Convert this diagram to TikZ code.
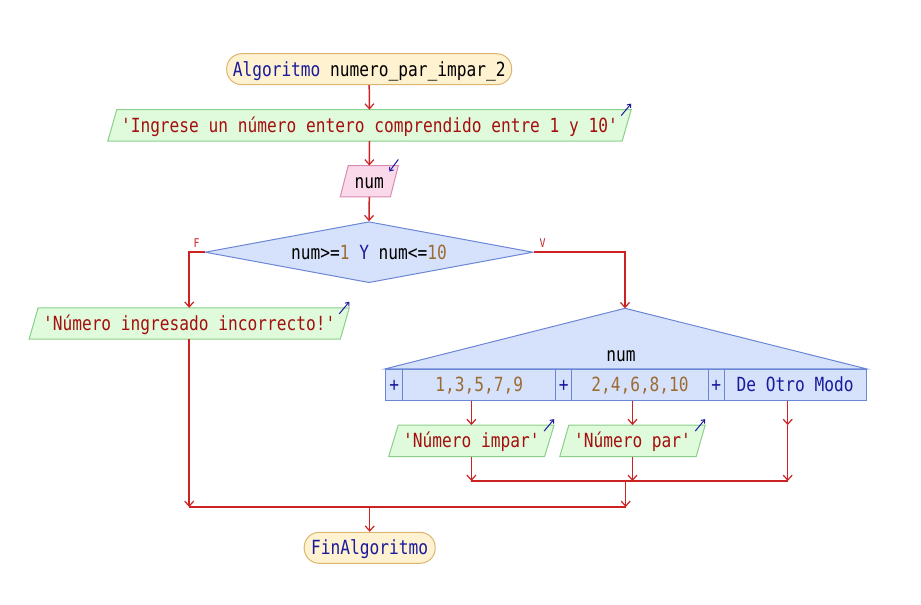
\documentclass[tikz,border=0pt]{standalone}
\usepackage{fontspec}
\newfontfamily\pmono[FakeStretch=0.83]{DejaVu Sans Mono}
\usetikzlibrary{shapes.geometric,arrows.meta,calc,backgrounds}
\definecolor{flowc}{HTML}{CC2222}
\definecolor{kwc}{HTML}{1A1A9C}
\definecolor{strc}{HTML}{A50F0F}
\definecolor{numc}{HTML}{9C6B32}
\definecolor{termfill}{HTML}{FFF2D0}
\definecolor{termdraw}{HTML}{DDB56E}
\definecolor{outfill}{HTML}{E0FADC}
\definecolor{outdraw}{HTML}{8AD08A}
\definecolor{infill}{HTML}{FADAEA}
\definecolor{indraw}{HTML}{D98AB0}
\definecolor{decfill}{HTML}{D6E2FB}
\definecolor{decdraw}{HTML}{6C86D6}
\newcommand{\kwt}[1]{\textcolor{kwc}{#1}}
\newcommand{\numt}[1]{\textcolor{numc}{#1}}
% parallelogram around a node: name, slant, style
\newcommand{\parabox}[3]{%
  \draw[#3] ($(#1.north west)+(#2/2,0)$) -- ($(#1.north east)+(#2/2,0)$)
    -- ($(#1.south east)-(#2/2,0)$) -- ($(#1.south west)-(#2/2,0)$) -- cycle;}
\newcommand{\outicon}[2]{%
  \draw[icon] ($(#1.north east)+(#2/2,0)+(-10,6)$) -- ($(#1.north east)+(#2/2,0)+(0,-6)$);}
\newcommand{\inicon}[2]{%
  \draw[icon] ($(#1.north east)+(#2/2,0)+(0,-6)$) -- ($(#1.north east)+(#2/2,0)+(-9,6)$);}
\begin{document}
\begin{tikzpicture}[x=1pt,y=-1pt,
  txt/.style={font=\pmono\fontsize{19.5}{20}\selectfont, text height=15pt, text depth=1pt, inner sep=0pt},
  term/.style={txt, draw=termdraw, fill=termfill, rounded corners=15pt, minimum height=31pt, line width=1pt},
  iotext/.style={txt, minimum height=31pt},
  outshape/.style={draw=outdraw, fill=outfill, line width=1pt},
  inshape/.style={draw=indraw, fill=infill, line width=1pt},
  decshape/.style={draw=decdraw, fill=decfill, line width=1pt},
  dec/.style={txt, shape=diamond, aspect=5.4, draw=decdraw, fill=decfill, minimum width=328pt, minimum height=61pt, line width=1pt},
  cell/.style={txt, draw=decdraw, fill=decfill, minimum height=30.7pt, line width=1pt},
  flow/.style={draw=flowc, line width=1.5pt},
  arr/.style={flow, -{Straight Barb[length=5pt,width=9pt,line width=1.2pt]}},
  icon/.style={draw=kwc, line width=1pt, -{Straight Barb[length=3pt,width=5pt]}},
  lab/.style={font=\pmono\fontsize{12}{12}\selectfont, text=flowc, inner sep=0pt},
]
\useasboundingbox (0,0) rectangle (921,605);

% nodes
\node[term, minimum width=285pt] (start) at (369.2,69.2) {\kwt{Algoritmo} numero\_par\_impar\_2};
\node[iotext, minimum width=514pt, text=strc] (out1) at (369.5,125.3) {'Ingrese un número entero comprendido entre 1 y 10'};
\node[iotext, minimum width=49.7pt] (in1) at (369.3,181.2) {num};
\node[dec] (dec) at (369,252.2) {num>=\numt{1} \kwt{Y} num<=\numt{10}};
\node[lab] (lf) at (196.7,243.3) {F};
\node[lab] (lv) at (542.7,242.7) {V};
\node[iotext, minimum width=310.8pt, text=strc] (out2) at (189.2,323.5) {'Número ingresado incorrecto!'};

\coordinate (swtop) at (625,308.3);
\node[txt] (swv) at (621,354) {num};
\node[cell, minimum width=17pt, text=kwc] (p1) at (394.2,384.7) {+};
\node[cell, minimum width=153pt, text=numc] (c1) at (479.2,384.7) {1,3,5,7,9};
\node[cell, minimum width=16pt, text=kwc] (p2) at (563.7,384.7) {+};
\node[cell, minimum width=136.6pt, text=numc] (c2) at (640,384.7) {2,4,6,8,10};
\node[cell, minimum width=16pt, text=kwc] (p3) at (716.3,384.7) {+};
\node[cell, minimum width=141.7pt, text=kwc] (c3) at (795.2,384.7) {De Otro Modo};

\node[iotext, minimum width=155.5pt, text=strc] (imp) at (471.4,440.8) {'Número impar'};
\node[iotext, minimum width=136pt, text=strc] (par) at (632.5,440.8) {'Número par'};
\node[term, minimum width=131pt, text=kwc] (fin) at (369.7,547.8) {FinAlgoritmo};

% shapes behind text
\begin{scope}[on background layer]
  \parabox{out1}{9}{outshape}
  \parabox{in1}{8}{inshape}
  \parabox{out2}{9}{outshape}
  \parabox{imp}{9.5}{outshape}
  \parabox{par}{9}{outshape}
  \draw[decshape] (swtop) -- (p1.north west) -- (c3.north east) -- cycle;
\end{scope}
\outicon{out1}{9}
\inicon{in1}{8}
\outicon{out2}{9}
\outicon{imp}{9.5}
\outicon{par}{9}

% junction coordinates
\coordinate (d3) at ([xshift=-7.5pt]c3.south);
\coordinate (d3m) at (d3 |- imp.north);
\coordinate (j1) at (imp.south |- 0,481);
\coordinate (j2) at (par.south |- 0,481);
\coordinate (j3) at (d3 |- 0,481);
\coordinate (jm) at (625.7,481);
\coordinate (km) at (fin.north |- 0,507);
\coordinate (k1) at (out2.south |- km);
\coordinate (k2) at (jm |- km);

% connectors
\draw[arr] (start.south) -- (out1.north);
\draw[arr] (out1.south) -- (in1.north);
\draw[arr] (in1.south) -- (dec.north);
\draw[arr] (dec.west) -| (out2.north);
\draw[arr] (dec.east) -| (swtop);
\draw[arr] (imp.north |- c1.south) -- (imp.north);
\draw[arr] (par.north |- c2.south) -- (par.north);
\draw[arr] (d3) -- (d3m);
\draw[arr] (d3m) -- (j3);
\draw[arr] (imp.south) -- (j1);
\draw[arr] (par.south) -- (j2);
\draw[flow] (j1) -- (j3);
\draw[arr] (jm) -- (k2);
\draw[arr] (out2.south) -- (k1);
\draw[flow] (k1) -- (k2);
\draw[arr] (km) -- (fin.north);
\end{tikzpicture}
\end{document}
